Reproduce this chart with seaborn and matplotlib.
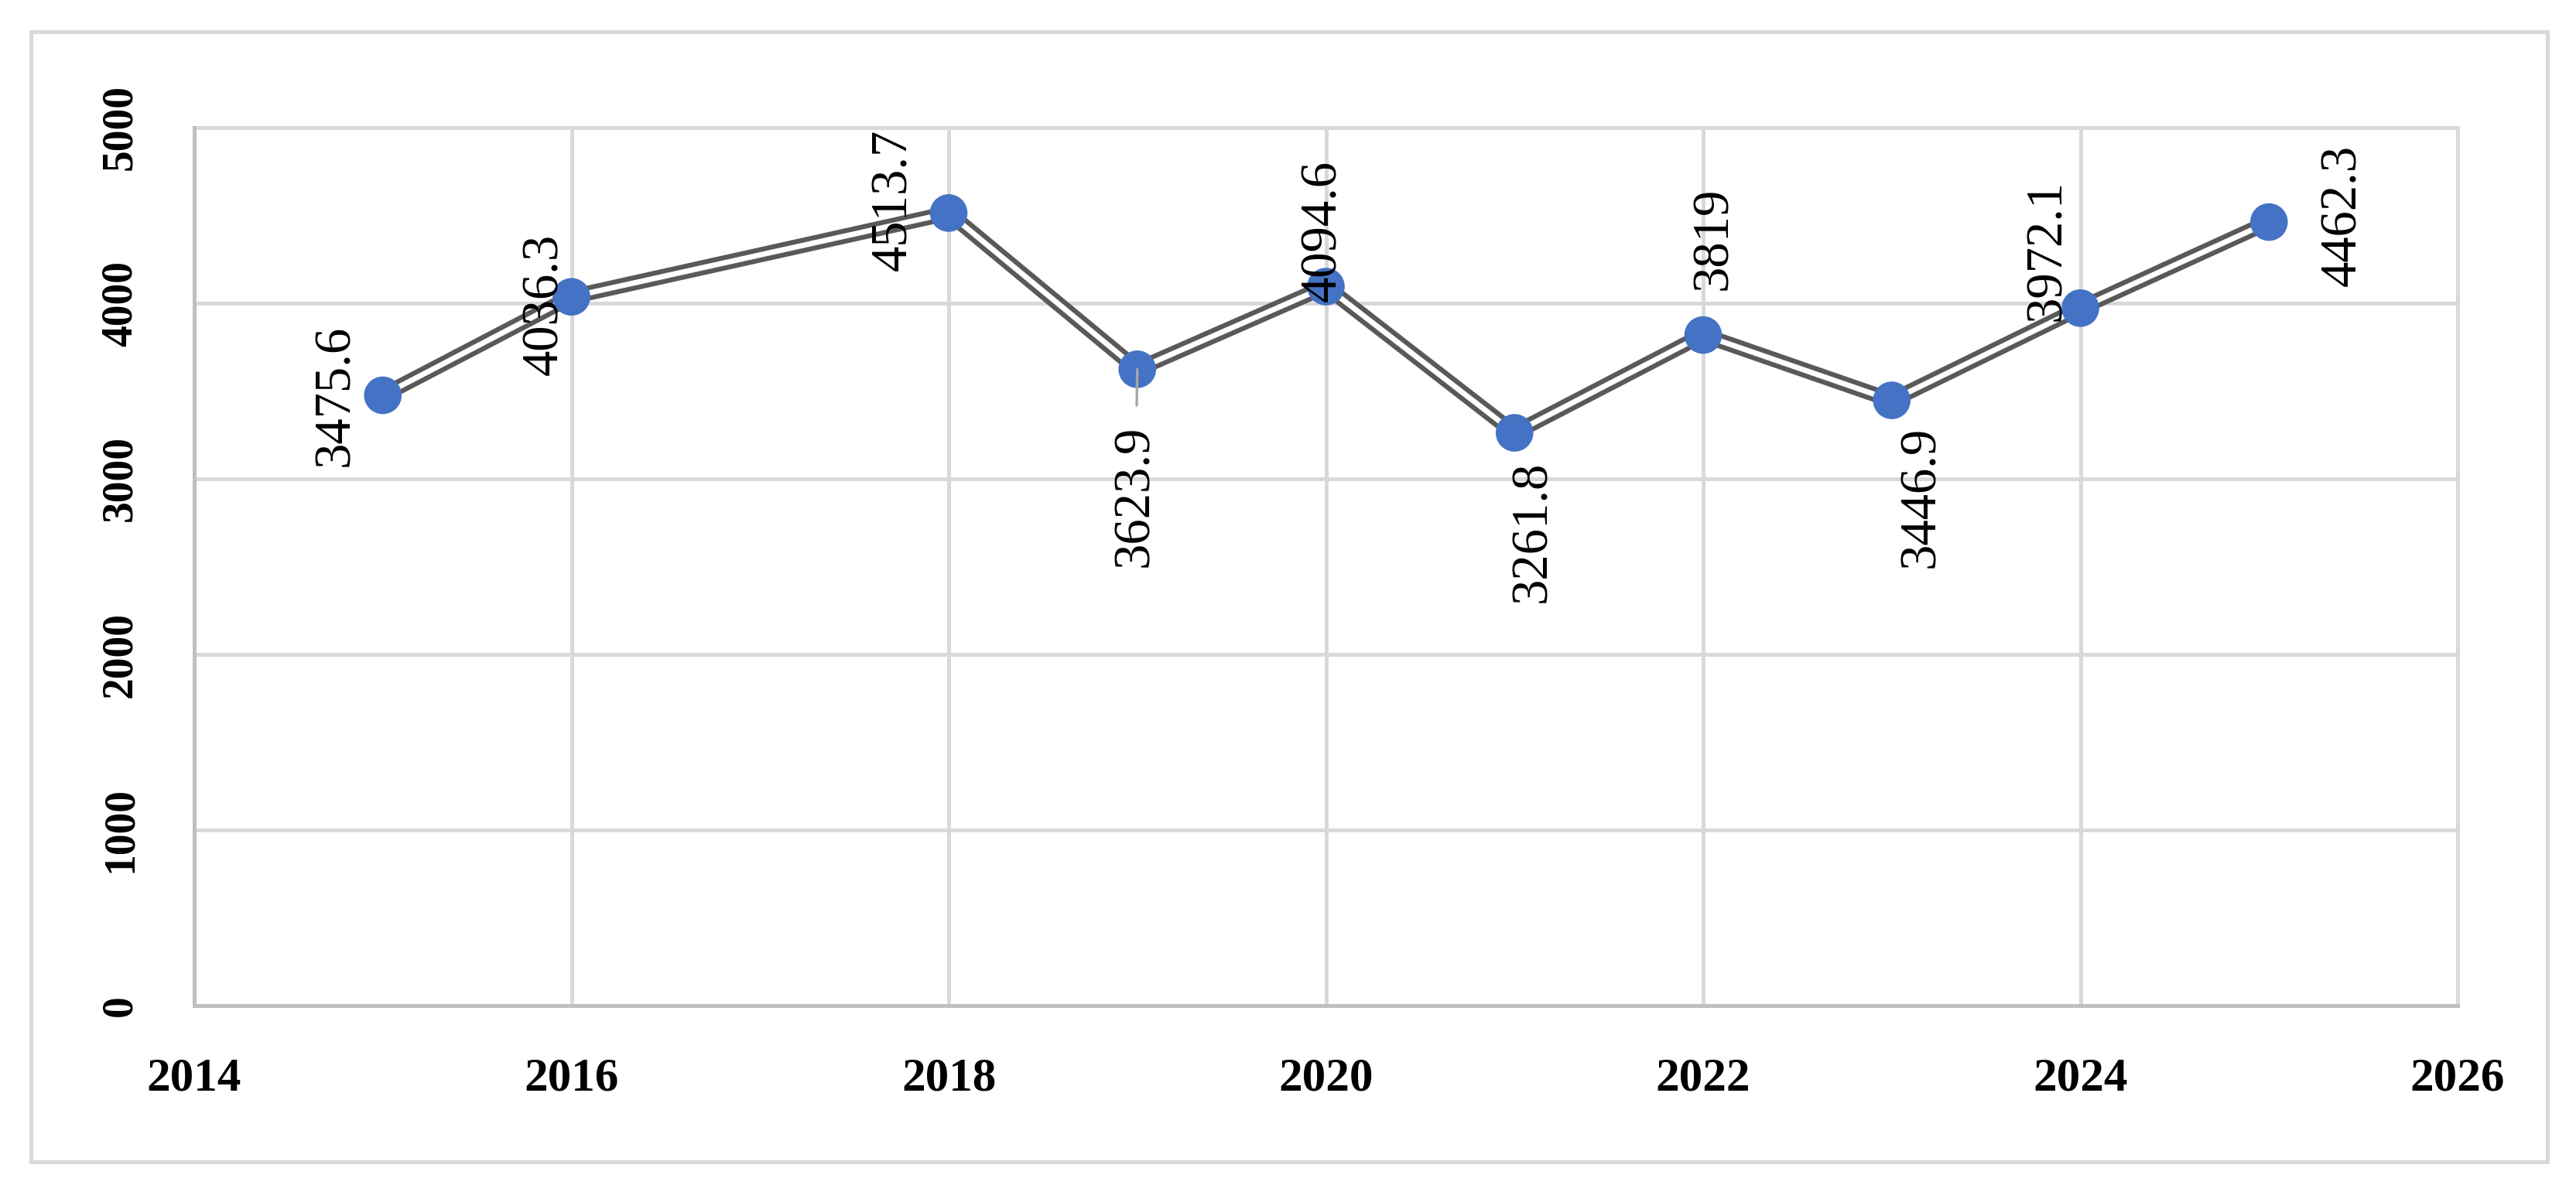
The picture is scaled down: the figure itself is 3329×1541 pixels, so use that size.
import matplotlib
matplotlib.use("Agg")
import matplotlib.pyplot as plt
import seaborn as sns
import pandas as pd
from matplotlib.patches import Rectangle

# ---- data ----
years = [2015, 2016, 2018, 2019, 2020, 2021, 2022, 2023, 2024, 2025]
values = [3475.6, 4036.3, 4513.7, 3623.9, 4094.6, 3261.8, 3819, 3446.9, 3972.1, 4462.3]
value_labels = ["3475.6", "4036.3", "4513.7", "3623.9", "4094.6",
                "3261.8", "3819", "3446.9", "3972.1", "4462.3"]
x_ticks = [2014, 2016, 2018, 2020, 2022, 2024, 2026]
y_ticks = [0, 1000, 2000, 3000, 4000, 5000]

# ---- label placement (style, in points) ----
label_offsets = [(-22, 0), (-12.5, -3.6), (-25.5, 6), (-1, -59), (-1.5, 26),
                 (8.5, -46), (5, 45), (13.5, -45), (-15.5, 27), (34.5, 3)]
leader = [False, False, False, True, False, False, False, False, False, False]

sns.set_theme(style="white")
plt.rcParams["font.family"] = ["Liberation Serif", "DejaVu Serif"]

W, H = 3330, 1541
fig = plt.figure(figsize=(W / 200, H / 200), dpi=200)
fig.patch.set_facecolor("white")
left, right, top, bottom = 251, 3176, 165, 1300
ax = fig.add_axes([left / W, 1 - bottom / H, (right - left) / W, (bottom - top) / H])

df = pd.DataFrame({"year": years, "value": values})

# double line: dark outer + white inner
sns.lineplot(data=df, x="year", y="value", ax=ax, color="#595959",
             linewidth=7.0, zorder=3, sort=True)
sns.lineplot(data=df, x="year", y="value", ax=ax, color="white",
             linewidth=2.5, zorder=4, sort=True)
sns.scatterplot(data=df, x="year", y="value", ax=ax, s=17.5 ** 2,
                color="#4472C4", edgecolor="none", linewidth=0, zorder=5)

for x, y, lab, (dx, dy), ld in zip(years, values, value_labels, label_offsets, leader):
    kw = {}
    if ld:
        kw["arrowprops"] = dict(arrowstyle="-", color="#A6A6A6", lw=1.2,
                                shrinkA=7, shrinkB=0)
    ax.annotate(lab, xy=(x, y), xytext=(dx, dy), textcoords="offset points",
                rotation=90, ha="center", va="center", fontsize=24,
                color="black", zorder=6, **kw)

ax.set_xlim(2014, 2026)
ax.set_ylim(0, 5000)
ax.set_xticks(x_ticks)
ax.set_xticklabels([str(t) for t in x_ticks], fontsize=22, fontweight="bold")
ax.set_yticks(y_ticks)
ax.set_yticklabels([str(t) for t in y_ticks], fontsize=20, fontweight="bold",
                   rotation=90, va="center")
ax.tick_params(axis="x", length=0, pad=24, colors="black")
ax.tick_params(axis="y", length=0, pad=25, colors="black")
ax.set_xlabel("")
ax.set_ylabel("")

ax.grid(True, color="#D9D9D9", linewidth=1.8)
ax.set_axisbelow(True)
for gl in ax.get_xgridlines() + ax.get_ygridlines():
    gl.set_clip_on(False)
for s in ["top", "right"]:
    ax.spines[s].set_visible(False)
for s in ["left", "bottom"]:
    ax.spines[s].set_color("#BFBFBF")
    ax.spines[s].set_linewidth(1.8)
    ax.spines[s].set_zorder(2.5)

fig.add_artist(Rectangle((40 / W, 1 - 1502 / H), (3292 - 40) / W, (1502 - 41) / H,
                         transform=fig.transFigure, fill=False,
                         edgecolor="#D9D9D9", linewidth=1.8))

fig.savefig("out.png", dpi=200, facecolor="white")
